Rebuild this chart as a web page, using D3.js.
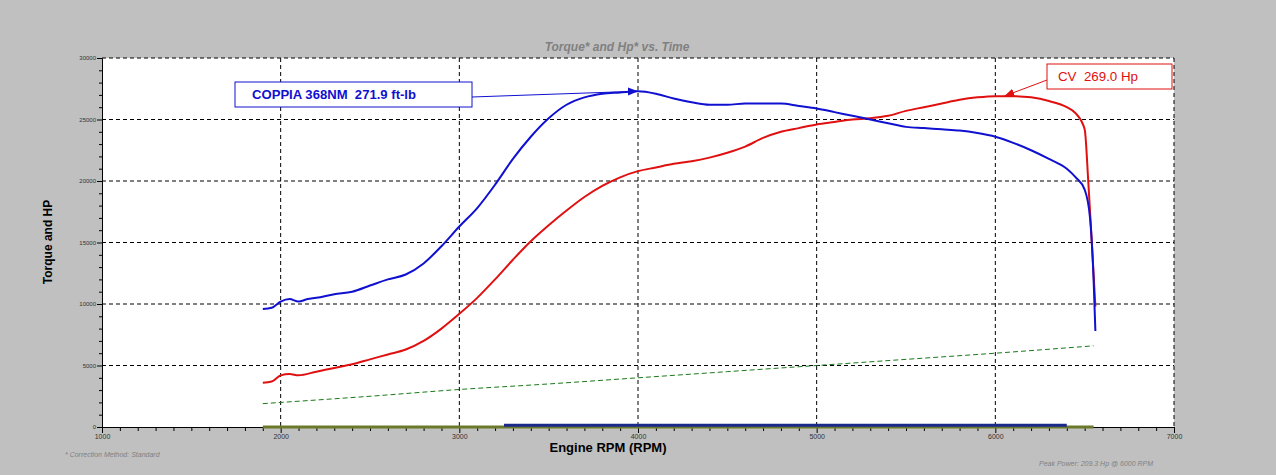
<!DOCTYPE html>
<html lang="en">
<head>
<meta charset="UTF-8">
<title>Torque and Hp vs. Time</title>
<script src="https://d3js.org/d3.v7.min.js"></script>
<style>body{margin:0;background:#c0c0c0;} text{white-space:pre;}</style>
</head>
<body>
<script>
// torque curve (blue)
var torqueRpm = [1900,1950,2000,2050,2100,2150,2200,2300,2400,2500,2600,2700,2800,2900,3000,3100,3200,3300,3400,3500,3600,3700,3800,3900,4000,4100,4200,4300,4400,4500,4600,4700,4800,4900,5000,5100,5200,5300,5400,5500,5600,5700,5800,5900,6000,6100,6200,6300,6400,6450,6500,6530,6550,6560];
var torqueVal = [9600,9700,10200,10400,10200,10400,10500,10800,11000,11500,12000,12400,13300,14700,16300,17800,19700,21800,23600,25100,26200,26800,27100,27200,27300,27100,26700,26400,26200,26200,26300,26300,26300,26100,25900,25600,25300,25000,24700,24400,24300,24200,24100,23900,23600,23100,22500,21800,21000,20300,19300,17000,12000,7800];
// power curve (red)
var powerRpm = [1900,1950,2000,2050,2100,2200,2300,2400,2500,2600,2700,2800,2900,3000,3100,3200,3300,3400,3500,3600,3700,3800,3900,4000,4100,4200,4300,4400,4500,4600,4700,4800,4900,5000,5100,5200,5300,5400,5500,5600,5700,5800,5900,6000,6100,6200,6300,6400,6450,6500,6520,6540,6560];
var powerVal = [3600,3700,4200,4300,4200,4500,4800,5100,5500,5900,6300,7000,8000,9200,10500,12000,13600,15100,16400,17600,18700,19600,20300,20800,21100,21400,21600,21900,22300,22800,23500,24000,24300,24600,24800,25000,25100,25300,25700,26000,26300,26600,26800,26900,26900,26800,26500,26000,25500,24200,20000,15000,9800];
// time trace (green dashed)
var timeRpm = [1900,2500,3000,3500,4000,4500,5000,5500,6000,6550];
var timeVal = [1900,2500,3050,3500,4000,4500,5000,5500,6000,6600];
// baseline traces
var baseBlueRpm = [3250,6400], baseBlueVal = [150,150];
var baseOliveRpm = [1900,6550], baseOliveVal = [0,0];

var xTicks = [1000,2000,3000,4000,5000,6000,7000];
var yTicks = [0,5000,10000,15000,20000,25000,30000];

var w = 1276, h = 475;
var x = d3.scaleLinear().domain([1000,7000]).range([102,1174]);
var y = d3.scaleLinear().domain([0,30000]).range([427,58]);

var svg = d3.select("body").append("svg").attr("width", w).attr("height", h)
    .style("font-family", "Liberation Sans, Arial, sans-serif");

svg.append("rect").attr("x",102).attr("y",58).attr("width",1072).attr("height",369).attr("fill","white");

// grid
svg.selectAll(".gx").data(xTicks.slice(1,-1)).join("line")
    .attr("x1", d => x(d)).attr("x2", d => x(d)).attr("y1",58).attr("y2",427)
    .attr("stroke","black").attr("stroke-dasharray","4,3");
svg.selectAll(".gy").data(yTicks.slice(1)).join("line")
    .attr("y1", d => y(d)).attr("y2", d => y(d)).attr("x1",102).attr("x2",1174)
    .attr("stroke","black").attr("stroke-dasharray","4,3");
svg.append("line").attr("x1",1174).attr("x2",1174).attr("y1",58).attr("y2",427).attr("stroke","black").attr("stroke-dasharray","4,3");

// axes
var xAxis = d3.axisBottom(x).tickValues(d3.range(1000,7001,100)).tickSize(4)
    .tickFormat(d => xTicks.includes(d) ? d : "");
var gx = svg.append("g").attr("transform","translate(0,427)").call(xAxis);
gx.selectAll(".tick line").attr("y2", d => xTicks.includes(d) ? 6 : 4);
gx.selectAll("text").attr("font-size",7).attr("fill","#333");
var yAxis = d3.axisLeft(y).tickValues(d3.range(0,30001,1000)).tickSize(3)
    .tickFormat(d => yTicks.includes(d) ? d : "");
var gy = svg.append("g").attr("transform","translate(102,0)").call(yAxis);
gy.selectAll(".tick line").attr("x2", d => yTicks.includes(d) ? -5 : -3);
gy.selectAll("text").attr("font-size",6).attr("fill","#333");
svg.selectAll(".domain").attr("stroke","black");

var line = d3.line().x(d => x(d[0])).y(d => y(d[1])).curve(d3.curveMonotoneX);
function draw(rpm, val, color, width, dash) {
    svg.append("path").datum(d3.zip(rpm, val)).attr("d", line)
        .attr("fill","none").attr("stroke",color).attr("stroke-width",width)
        .attr("stroke-dasharray", dash || null);
}
draw(baseOliveRpm, baseOliveVal, "#6b7a2a", 3);
draw(baseBlueRpm, baseBlueVal, "#1a2a8a", 3);
draw(timeRpm, timeVal, "#1a7a1a", 1, "5,3");
draw(powerRpm, powerVal, "#e01010", 2);
draw(torqueRpm, torqueVal, "#1010d0", 2);

// annotations
svg.append("defs").selectAll("marker").data([["ab","#1010d0"],["ar","#e01010"]]).join("marker")
    .attr("id", d => d[0]).attr("viewBox","0 0 10 10").attr("refX",10).attr("refY",5)
    .attr("markerWidth",10).attr("markerHeight",10).attr("orient","auto")
    .append("path").attr("d","M0,1L10,5L0,9Z").attr("fill", d => d[1]);

svg.append("line").attr("x1",472).attr("y1",97).attr("x2",x(4000)).attr("y2",y(27300))
    .attr("stroke","#1010d0").attr("marker-end","url(#ab)");
svg.append("rect").attr("x",235).attr("y",82).attr("width",237).attr("height",25)
    .attr("fill","white").attr("stroke","#1010d0");
svg.append("text").attr("x",252).attr("y",99).attr("fill","#1010d0").attr("font-size",13)
    .attr("font-weight","bold").attr("textLength",164).attr("lengthAdjust","spacingAndGlyphs")
    .text("COPPIA 368NM  271.9 ft-lb");

svg.append("line").attr("x1",1047).attr("y1",80).attr("x2",x(6050)).attr("y2",y(26900))
    .attr("stroke","#e01010").attr("marker-end","url(#ar)");
svg.append("rect").attr("x",1047).attr("y",64).attr("width",125).attr("height",25)
    .attr("fill","white").attr("stroke","#e01010");
svg.append("text").attr("x",1058).attr("y",81).attr("fill","#e01010").attr("font-size",13)
    .attr("textLength",80).attr("lengthAdjust","spacingAndGlyphs").text("CV  269.0 Hp");

// titles
svg.append("text").attr("x",617).attr("y",51).attr("text-anchor","middle").attr("fill","#808080")
    .attr("font-size",12).attr("font-style","italic").attr("font-weight","bold").text("Torque* and Hp* vs. Time");
svg.append("text").attr("x",608).attr("y",452).attr("text-anchor","middle")
    .attr("font-size",13).attr("font-weight","bold").text("Engine RPM (RPM)");
svg.append("text").attr("transform","translate(52,242) rotate(-90)").attr("text-anchor","middle")
    .attr("font-size",12).attr("font-weight","bold").text("Torque and HP");
svg.append("text").attr("x",65).attr("y",457).attr("fill","#808080").attr("font-size",7)
    .attr("font-style","italic").text("* Correction Method: Standard");
svg.append("text").attr("x",1039).attr("y",466).attr("fill","#808080").attr("font-size",7)
    .attr("font-style","italic").text("Peak Power: 209.3 Hp @ 6000 RPM");
</script>
</body>
</html>
